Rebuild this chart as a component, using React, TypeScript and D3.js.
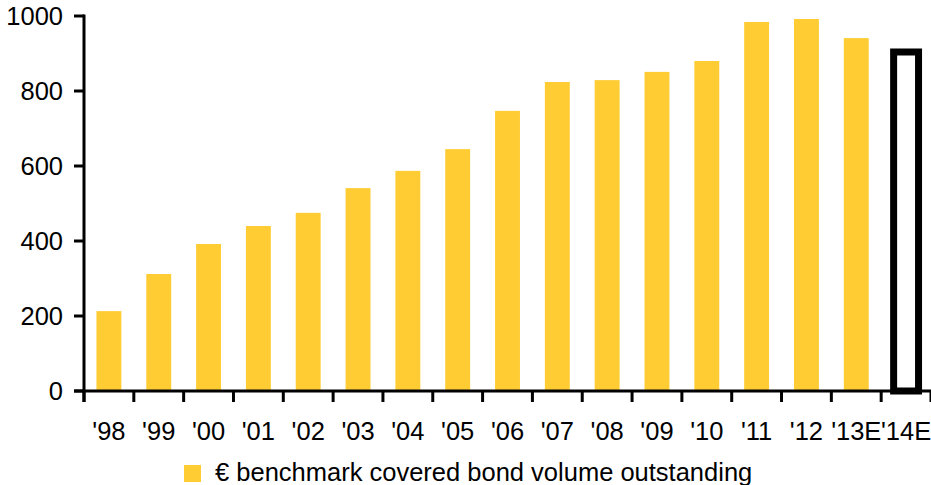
import { useEffect, useRef } from 'react'
import * as d3 from 'd3'

const categories = ["'98", "'99", "'00", "'01", "'02", "'03", "'04", "'05", "'06", "'07", "'08", "'09", "'10", "'11", "'12", "'13E", "'14E"]
const volumes = [213, 312, 392, 440, 475, 541, 587, 645, 747, 824, 829, 851, 880, 984, 992, 941, 904]
const yTicks = [0, 200, 400, 600, 800, 1000]
const estimateCategory = "'14E"
const legendLabel = '€ benchmark covered bond volume outstanding'

const W = 931
const H = 485
const font = 'Arial, "Liberation Sans", sans-serif'
const fontSize = 25.5

export default function App() {
  const svgRef = useRef<SVGSVGElement>(null)

  useEffect(() => {
    if (!svgRef.current) return
    const svg = d3.select(svgRef.current)
    svg.selectAll('*').remove()

    const x = d3.scaleBand<string>()
      .domain(categories)
      .range([84, 931])
      .paddingInner(0.5)
      .paddingOuter(0.25)

    const y = d3.scaleLinear().domain([0, 1000]).range([391, 16])

    const data = categories.map((c, i) => ({ cat: c, value: volumes[i] }))

    // bars
    svg.selectAll('.bar')
      .data(data.filter(d => d.cat !== estimateCategory))
      .enter()
      .append('rect')
      .attr('x', d => x(d.cat)!)
      .attr('y', d => y(d.value))
      .attr('width', x.bandwidth())
      .attr('height', d => y(0) - y(d.value))
      .attr('fill', '#FFCC33')

    // estimate bar, outlined
    svg.selectAll('.est')
      .data(data.filter(d => d.cat === estimateCategory))
      .enter()
      .append('rect')
      .attr('x', d => x(d.cat)!)
      .attr('y', d => y(d.value))
      .attr('width', x.bandwidth())
      .attr('height', d => y(0) - y(d.value))
      .attr('fill', 'none')
      .attr('stroke', '#000')
      .attr('stroke-width', 7)

    // y axis
    svg.append('line')
      .attr('x1', 84).attr('x2', 84)
      .attr('y1', y(1000) - 1.5).attr('y2', y(0) + 11)
      .attr('stroke', '#000').attr('stroke-width', 3)

    svg.selectAll('.ytick')
      .data(yTicks)
      .enter()
      .append('line')
      .attr('x1', 74).attr('x2', 84)
      .attr('y1', d => y(d)).attr('y2', d => y(d))
      .attr('stroke', '#000').attr('stroke-width', 3)

    svg.selectAll('.ylabel')
      .data(yTicks)
      .enter()
      .append('text')
      .attr('x', 63)
      .attr('y', d => y(d))
      .attr('dy', '0.36em')
      .attr('text-anchor', 'end')
      .attr('font-family', font)
      .attr('font-size', fontSize)
      .text(d => d)

    // x axis
    svg.append('line')
      .attr('x1', 74).attr('x2', 931)
      .attr('y1', y(0)).attr('y2', y(0))
      .attr('stroke', '#000').attr('stroke-width', 3)

    const step = x.step()
    const bounds = d3.range(categories.length + 1).map(i => 84 + i * step)
    svg.selectAll('.xtick')
      .data(bounds)
      .enter()
      .append('line')
      .attr('x1', d => d).attr('x2', d => d)
      .attr('y1', y(0)).attr('y2', y(0) + 11)
      .attr('stroke', '#000').attr('stroke-width', 3)

    svg.selectAll('.xlabel')
      .data(categories)
      .enter()
      .append('text')
      .attr('x', d => x(d)! + x.bandwidth() / 2)
      .attr('y', 440)
      .attr('text-anchor', 'middle')
      .attr('font-family', font)
      .attr('font-size', fontSize)
      .text(d => d)

    // legend
    svg.append('rect')
      .attr('x', 184).attr('y', 465)
      .attr('width', 17).attr('height', 17)
      .attr('fill', '#FFCC33')
    svg.append('text')
      .attr('x', 215).attr('y', 481)
      .attr('font-family', font)
      .attr('font-size', fontSize)
      .text(legendLabel)
  }, [])

  return (
    <div style={{ position: 'absolute', left: 0, top: 0 }}>
      <svg ref={svgRef} width={W} height={H} style={{ display: 'block', background: '#fff' }} />
    </div>
  )
}
